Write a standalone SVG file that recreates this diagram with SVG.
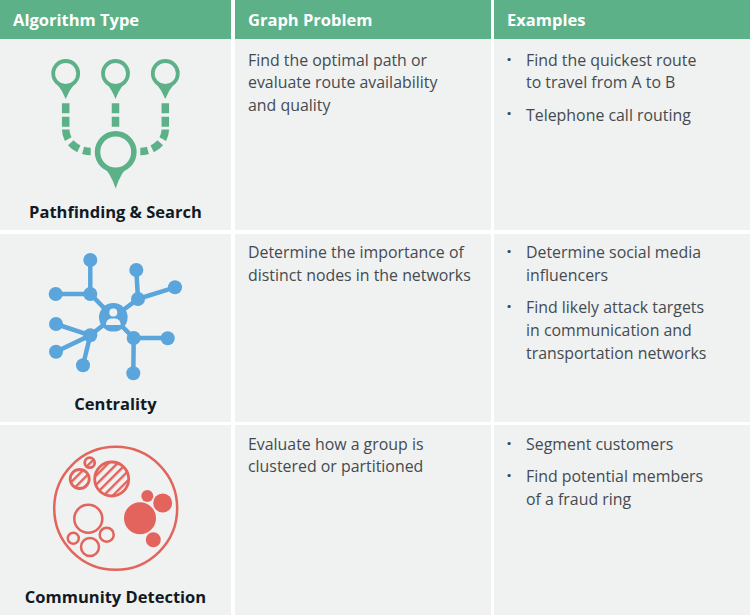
<svg xmlns="http://www.w3.org/2000/svg" width="750" height="615" viewBox="0 0 750 615">
<style>
text{font-family:"Open Sans","Noto Sans",sans-serif}
.h{font-size:16.500px;font-weight:700;fill:#fff}
.b{font-size:15.900px;fill:#444b50}
.d{font-size:18px;font-weight:700;fill:#444b50}
.t{font-size:16.500px;font-weight:700;fill:#111a22;text-anchor:middle}
.hd{fill:#5db188}.c{fill:#f0f1f1}
.g{fill:#5db188}
.gr{fill:#f0f1f1;stroke:#5db188;stroke-width:3.800}
.gd{fill:none;stroke:#5db188;stroke-width:7.500}
.ga{fill:none;stroke:#5db188;stroke-width:7.500;stroke-dasharray:10 4.500}
.bl{stroke:#5aa5db;stroke-width:4.500;fill:none}
.bn{fill:#5aa5db}
.r{fill:none;stroke:#e2645d;stroke-width:2.500}
.rh{fill:url(#hatch);stroke:#e2645d;stroke-width:2.800}
.rf{fill:#e2645d}
</style>
<defs>
<pattern id="hatch" width="6.500" height="6.500" patternUnits="userSpaceOnUse" patternTransform="rotate(45)"><rect width="6.500" height="6.500" fill="#f0f1f1"/><rect width="2.400" height="6.500" fill="#e2645d"/></pattern>
</defs>
<rect width="750" height="615" fill="#fff"/>
<g id="table">
<rect class="hd" x="0" y="0" width="231" height="39"/>
<rect class="hd" x="235" y="0" width="256" height="39"/>
<rect class="hd" x="494" y="0" width="256" height="39"/>
<rect class="c" x="0" y="39" width="231" height="191"/>
<rect class="c" x="235" y="39" width="256" height="191"/>
<rect class="c" x="494" y="39" width="256" height="191"/>
<rect class="c" x="0" y="234" width="231" height="188"/>
<rect class="c" x="235" y="234" width="256" height="188"/>
<rect class="c" x="494" y="234" width="256" height="188"/>
<rect class="c" x="0" y="425" width="231" height="190"/>
<rect class="c" x="235" y="425" width="256" height="190"/>
<rect class="c" x="494" y="425" width="256" height="190"/>
<text class="h" x="13" y="26">Algorithm Type</text>
<text class="h" x="248" y="26">Graph Problem</text>
<text class="h" x="507" y="26">Examples</text>
</g>
<g id="pathfinding">
<g id="pf-connectors">
<path class="gd" d="M65.700 103.300V113.300M65.700 116.700V126.700M115.500 103.300V113.300M115.500 116.700V126.700M165.300 103.300V113.300M165.300 116.700V126.700"/>
<path class="ga" d="M65.700 129.500A25 22 0 0 0 90.700 151.500"/>
<path class="ga" d="M165.300 129.500A25 22 0 0 1 140.300 151.500"/>
</g>
<g id="pf-pins">
<path class="g" d="M57 84Q62 90 65.700 99Q69.400 90 74.400 84Z"/><circle class="gr" cx="65.700" cy="73.500" r="12.500"/>
<path class="g" d="M107 84Q112 90 115.500 99Q119 90 124 84Z"/><circle class="gr" cx="115.500" cy="73.500" r="12.500"/>
<path class="g" d="M156.500 84Q161.500 90 165.300 99Q169 90 174 84Z"/><circle class="gr" cx="165.300" cy="73.500" r="12.500"/>
<path class="g" d="M102 165Q110 172 115.700 188.500Q121 172 129.400 165Z"/><circle cx="115.700" cy="152" r="18.200" fill="#f0f1f1" stroke="#5db188" stroke-width="5.500"/>
</g>
<text class="t" x="115.500" y="217.500">Pathfinding &amp; Search</text>
</g>
<g id="centrality">
<g id="ce-connectors">
<path class="bl" d="M90.300 260V294M55.700 294H90.300L113.300 317.300M136.300 270L138 299L175 287.300M138 299L113.300 317.300M56 324L90.300 335.300L56 351.700M90.300 335.300L83 365.300M90.300 335.300L113.300 317.300M113.300 317.300L133.700 338H167.700M133.700 338L133.300 373.300"/>
</g>
<g id="ce-nodes">
<circle class="bn" cx="90.300" cy="260" r="7"/><circle class="bn" cx="90.300" cy="294" r="7"/><circle class="bn" cx="55.700" cy="294" r="7"/><circle class="bn" cx="136.300" cy="270" r="7"/><circle class="bn" cx="138" cy="299" r="7"/><circle class="bn" cx="175" cy="287.300" r="7"/><circle class="bn" cx="56" cy="324" r="7"/><circle class="bn" cx="56" cy="351.700" r="7"/><circle class="bn" cx="90.300" cy="335.300" r="7"/><circle class="bn" cx="83" cy="365.300" r="7"/><circle class="bn" cx="133.700" cy="338" r="7"/><circle class="bn" cx="167.700" cy="338.300" r="7"/><circle class="bn" cx="133.300" cy="373.300" r="7"/>
<circle class="bn" cx="113.300" cy="317.300" r="14.300"/>
<circle cx="113.300" cy="312.500" r="4" fill="#f0f1f1"/>
<path d="M106 325C106 320 108.500 318.500 113.300 318.500C118.100 318.500 120.600 320 120.600 325Z" fill="#f0f1f1"/>
</g>
<text class="t" x="115.500" y="410">Centrality</text>
</g>
<g id="community">
<circle class="r" cx="115.700" cy="508.300" r="61.500"/>
<circle class="rh" cx="111.700" cy="479" r="17"/>
<circle class="rh" cx="79.700" cy="479" r="9.500"/>
<circle class="rh" cx="89.700" cy="462.700" r="5"/>
<circle class="rf" cx="140" cy="518.300" r="16"/>
<circle class="rf" cx="162.700" cy="503" r="9.500"/>
<circle class="rf" cx="147.300" cy="496" r="6"/>
<circle class="rf" cx="153.300" cy="539.700" r="7.500"/>
<circle class="r" cx="88.300" cy="518.700" r="14"/>
<circle class="r" cx="106.700" cy="534.700" r="7"/>
<circle class="r" cx="90" cy="547" r="9"/>
<circle class="r" cx="73.300" cy="538.300" r="5.500"/>
<text class="t" x="115.500" y="603">Community Detection</text>
</g>
<g id="problems">
<text class="b" x="248" y="66">Find the optimal path or</text>
<text class="b" x="248" y="88">evaluate route availability</text>
<text class="b" x="248" y="111">and quality</text>
<text class="b" x="248" y="258">Determine the importance of</text>
<text class="b" x="248" y="280.500">distinct nodes in the networks</text>
<text class="b" x="248" y="450">Evaluate how a group is</text>
<text class="b" x="248" y="472">clustered or partitioned</text>
</g>
<g id="examples">
<text class="d" x="506.500" y="65.500">·</text><text class="b" x="526" y="66">Find the quickest route</text>
<text class="b" x="526" y="88">to travel from A to B</text>
<text class="d" x="506.500" y="120">·</text><text class="b" x="526" y="120.500">Telephone call routing</text>
<text class="d" x="506.500" y="257.500">·</text><text class="b" x="526" y="258">Determine social media</text>
<text class="b" x="526" y="280.500">influencers</text>
<text class="d" x="506.500" y="312.500">·</text><text class="b" x="526" y="313">Find likely attack targets</text>
<text class="b" x="526" y="335.500">in communication and</text>
<text class="b" x="526" y="358.500">transportation networks</text>
<text class="d" x="506.500" y="449.500">·</text><text class="b" x="526" y="450">Segment customers</text>
<text class="d" x="506.500" y="481.500">·</text><text class="b" x="526" y="482">Find potential members</text>
<text class="b" x="526" y="504.500">of a fraud ring</text>
</g>
</svg>
